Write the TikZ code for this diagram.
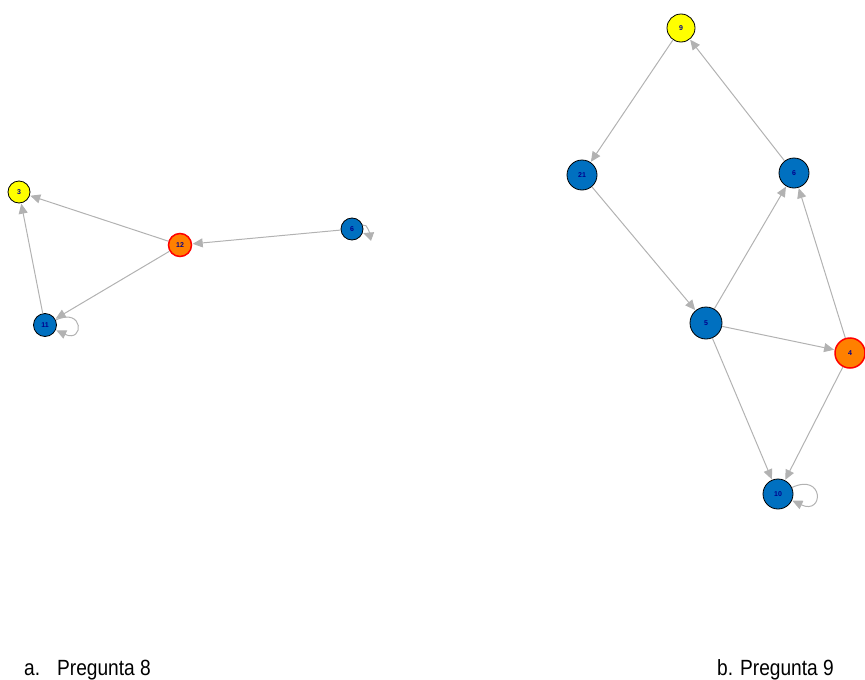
\documentclass[tikz,border=0pt]{standalone}
\usepackage{fontspec}
\setmainfont{Liberation Sans}
\usetikzlibrary{arrows.meta}
\definecolor{nblue}{RGB}{0,112,192}
\definecolor{nyellow}{RGB}{255,255,0}
\definecolor{norange}{RGB}{255,128,0}
\definecolor{nred}{RGB}{255,0,0}
\definecolor{ntext}{RGB}{0,0,140}
\definecolor{egray}{RGB}{178,178,178}
\tikzset{
  vtx/.style={circle,draw=black,line width=0.8pt,inner sep=0pt,
     font=\fontsize{7}{7}\selectfont\bfseries,text=ntext},
  bluev/.style={vtx,fill=nblue},
  yellowv/.style={vtx,fill=nyellow},
  orangev/.style={vtx,fill=norange,draw=nred,line width=1.5pt},
  edge/.style={draw=egray,line width=1pt,
     -{Triangle[length=10pt,width=9pt,fill=egray]},shorten >=0.5pt},
  caption/.style={font=\fontsize{22}{24}\selectfont,anchor=base west,inner sep=0pt,xscale=0.87}
}
\begin{document}
\begin{tikzpicture}[x=1pt,y=-1pt]
\path[use as bounding box] (0,0) rectangle (865,680);
% graph a
\node[yellowv,minimum size=22pt] (a3) at (19,192) {3};
\node[orangev,minimum size=23pt] (a12) at (180,245) {12};
\node[bluev,minimum size=22pt] (a6) at (352,229) {6};
\node[bluev,minimum size=23pt] (a11) at (45,325) {11};
\draw[edge] (a12) -- (a3);
\draw[edge] (a12) -- (a11);
\draw[edge] (a11) -- (a3);
\draw[edge] (a6) -- (a12);
\draw[edge] (a11) to[out=25,in=-25,looseness=8] (a11);
\draw[edge] (a6) to[out=20,in=-20,looseness=2] (a6);
% graph b
\node[yellowv,minimum size=28pt] (b9) at (681,28) {9};
\node[bluev,minimum size=30pt] (b21) at (582,175) {21};
\node[bluev,minimum size=30pt] (b6) at (794,173) {6};
\node[bluev,minimum size=32pt] (b5) at (706,323) {5};
\node[orangev,minimum size=30pt] (b4) at (850,353) {4};
\node[bluev,minimum size=30pt] (b10) at (778,494) {10};
\draw[edge] (b9) -- (b21);
\draw[edge] (b6) -- (b9);
\draw[edge] (b21) -- (b5);
\draw[edge] (b5) -- (b6);
\draw[edge] (b5) -- (b4);
\draw[edge] (b4) -- (b6);
\draw[edge] (b5) -- (b10);
\draw[edge] (b4) -- (b10);
\draw[edge] (b10) to[out=25,in=-25,looseness=7] (b10);
% captions
\node[caption] (ca) at (24,675) {a.};
\node[caption] (ca2) at (57,675) {Pregunta 8};
\node[caption] (cb) at (717,675) {b.};
\node[caption] (cb2) at (740,675) {Pregunta 9};
\end{tikzpicture}
\end{document}
